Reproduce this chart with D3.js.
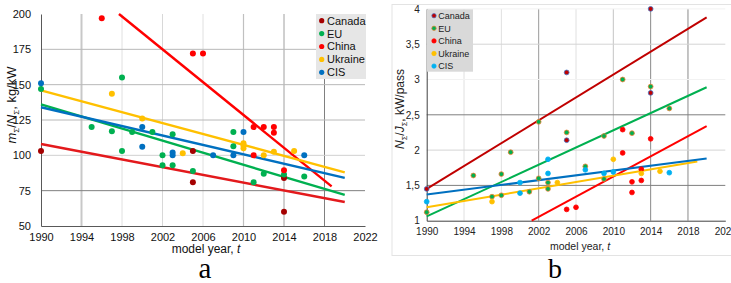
<!DOCTYPE html>
<html>
<head>
<meta charset="utf-8">
<script src="https://cdn.jsdelivr.net/npm/d3@7"></script>
<style>
  body { margin: 0; background: #fff; }
  svg { display: block; font-family: Arial, "Liberation Sans", sans-serif; }
</style>
</head>
<body>
<div id="chart"></div>
<script>
// country names, same order in both panels
const countries = ["Canada", "EU", "China", "Ukraine", "CIS"];
const yearTicks = [1990, 1994, 1998, 2002, 2006, 2010, 2014, 2018, 2022];

// panel a: specific mass m/N, kg/kW  [model year, value]
const massCanada  = [[1990, 103], [2005, 103], [2005, 81], [2014, 84], [2014, 60]];
const massEU      = [[1990, 147], [1995, 120], [1997, 117], [1998, 155], [1998, 103], [1999, 116.5], [2001, 116.5],
                     [2002, 100], [2002, 93], [2003, 115], [2003, 93], [2005, 89], [2009, 116.5], [2009, 106.5],
                     [2011, 81], [2012, 87], [2014, 86.5], [2016, 85]];
const massChina   = [[1996, 197], [2005, 172], [2006, 172], [2011, 120], [2011, 100], [2012, 120], [2013, 120],
                     [2013, 116], [2014, 89.5]];
const massUkraine = [[1997, 143.5], [2000, 126], [2004, 101.5], [2010, 108.5], [2010, 107], [2010, 105],
                     [2012, 100], [2013, 102.5], [2015, 103]];
const massCIS     = [[1990, 151], [2000, 120], [2000, 106], [2003, 102], [2003, 100], [2007, 100], [2009, 100],
                     [2010, 116.5], [2016, 100]];
// linear trends (start / end)
const massTrendCanada  = [[1990, 108], [2020, 67]];
const massTrendEU      = [[1990, 136], [2020, 72]];
const massTrendChina   = [[1997.7, 200], [2018.7, 78]];
const massTrendUkraine = [[1990, 146], [2020, 88]];
const massTrendCIS     = [[1990, 134], [2020, 84]];
const massTicks = [50, 75, 100, 125, 150, 175, 200];

// panel b: power per passenger N/J, kW/pass
const powerCanada  = [[1990, 1.45], [2005, 3.1], [2005, 2.14], [2014, 4.0], [2014, 2.81]];
const powerEU      = [[1990, 1.12], [1995, 1.64], [1997, 1.34], [1998, 1.66], [1998, 1.36], [1999, 1.97],
                      [2001, 1.41], [2002, 2.4], [2002, 1.6], [2003, 1.54], [2003, 1.45], [2005, 2.25],
                      [2007, 1.77], [2009, 2.2], [2009, 1.59], [2011, 3.0], [2012, 2.24], [2014, 2.9], [2016, 2.59]];
const powerChina   = [[2005, 1.16], [2006, 1.19], [2011, 2.29], [2011, 1.96], [2012, 1.55], [2012, 1.4],
                      [2013, 1.73], [2013, 1.57], [2014, 2.16]];
const powerUkraine = [[1997, 1.27], [2004, 1.54], [2010, 1.87], [2013, 1.67], [2015, 1.7]];
const powerCIS     = [[1990, 1.27], [2000, 1.54], [2000, 1.39], [2003, 1.87], [2003, 1.67], [2007, 1.72],
                      [2009, 1.67], [2010, 1.69], [2016, 1.68]];
const powerTrendCanada  = [[1990, 1.45], [2020, 3.88]];
const powerTrendEU      = [[1990, 1.06], [2020, 2.89]];
const powerTrendChina   = [[2001.25, 1.0], [2020, 2.34]];
const powerTrendUkraine = [[1990, 1.19], [2019, 1.84]];
const powerTrendCIS     = [[1990, 1.37], [2020, 1.88]];
const powerTicks = [1, 1.5, 2, 2.5, 3, 3.5, 4];

let width = 731, height = 283;

let svg = d3.select("#chart").append("svg")
    .attr("width", width)
    .attr("height", height);

// ---------- panel a ----------
let xa = d3.scaleLinear().domain([1990, 2022]).range([41, 365]);
let ya = d3.scaleLinear().domain([50, 200]).range([226, 14]);

let colA = { Canada: "#a50000", EU: "#00b050", China: "#ff0000", Ukraine: "#ffc000", CIS: "#0070c0" };
let lineColA = { Canada: "#e3191c", EU: "#00b050", China: "#ff0000", Ukraine: "#ffc000", CIS: "#0070c0" };
let pointsA = { Canada: massCanada, EU: massEU, China: massChina, Ukraine: massUkraine, CIS: massCIS };
let trendsA = { Canada: massTrendCanada, EU: massTrendEU, China: massTrendChina, Ukraine: massTrendUkraine, CIS: massTrendCIS };

let ga = svg.append("g").attr("class", "panel-a");

// grid - the scan has uneven grey lines, roughly copied
let vGridA = { 1994: ["#c8c8c8", 2], 1998: ["#e0e0e0", 1], 2002: ["#d8d8d8", 1], 2006: ["#e0e0e0", 1],
               2010: ["#c0c0c0", 1.2], 2014: ["#a0a0a0", 1], 2018: ["#808080", 1] };
ga.selectAll("line.vgrid")
    .data(yearTicks.filter(d => d > 1990 && d < 2022))
    .enter().append("line")
    .attr("class", "vgrid")
    .attr("x1", d => xa(d)).attr("x2", d => xa(d))
    .attr("y1", ya(200)).attr("y2", ya(50))
    .attr("stroke", d => vGridA[d][0])
    .attr("stroke-width", d => vGridA[d][1]);

let hGridA = { 75: "#7f7f7f", 100: "#d0d0d0", 125: "#b8b8b8", 150: "#b8b8b8", 175: "#b8b8b8" };
ga.selectAll("line.hgrid")
    .data(massTicks.filter(d => d > 50 && d < 200))
    .enter().append("line")
    .attr("class", "hgrid")
    .attr("x1", xa(1990)).attr("x2", xa(2022))
    .attr("y1", d => ya(d)).attr("y2", d => ya(d))
    .attr("stroke", d => hGridA[d]);

// axes
let xAxisA = ga.append("g")
    .attr("transform", "translate(0," + ya(50) + ")")
    .call(d3.axisBottom(xa).tickValues(yearTicks).tickFormat(d3.format("d")).tickSize(0).tickPadding(7));
let yAxisA = ga.append("g")
    .attr("transform", "translate(" + xa(1990) + ",0)")
    .call(d3.axisLeft(ya).tickValues(massTicks).tickSize(0).tickPadding(10));
[xAxisA, yAxisA].forEach(ax => {
    ax.select(".domain").attr("stroke", "#595959");
    ax.selectAll("text").attr("font-size", 11).attr("fill", "#111").attr("font-family", "Arial, 'Liberation Sans', sans-serif");
});

// trend lines
let lineA = d3.line().x(d => xa(d[0])).y(d => ya(d[1]));
countries.forEach(c => {
    ga.append("path")
        .attr("d", lineA(trendsA[c]))
        .attr("fill", "none")
        .attr("stroke", lineColA[c])
        .attr("stroke-width", 2.4);
});

// points
countries.forEach(c => {
    ga.selectAll("circle.p-" + c)
        .data(pointsA[c])
        .enter().append("circle")
        .attr("class", "p-" + c)
        .attr("cx", d => xa(d[0]))
        .attr("cy", d => ya(d[1]))
        .attr("r", 3)
        .attr("fill", colA[c]);
});

// legend
let legA = ga.append("g").attr("transform", "translate(316,14)");
legA.append("rect").attr("width", 50).attr("height", 65).attr("fill", "#e6e6e6");
let legItemA = legA.selectAll("g.item").data(countries).enter().append("g")
    .attr("transform", (d, i) => "translate(0," + (6.7 + i * 12.9) + ")");
legItemA.append("circle").attr("cx", 5.7).attr("r", 2.6).attr("fill", d => colA[d]);
legItemA.append("text").attr("x", 11).attr("dy", "0.36em").attr("font-size", 11).attr("fill", "#111").text(d => d);

// titles
ga.append("text")
    .attr("x", xa(2006) + 3).attr("y", 253)
    .attr("text-anchor", "middle").attr("font-size", 12).attr("fill", "#111")
    .html('model year, <tspan font-style="italic">t</tspan>');
ga.append("text")
    .attr("transform", "translate(16,105) rotate(-90)")
    .attr("text-anchor", "middle").attr("font-size", 13).attr("fill", "#111")
    .html('<tspan font-style="italic">m</tspan><tspan font-size="8" dy="3">Σ</tspan><tspan dy="-3">/</tspan><tspan font-style="italic">N</tspan><tspan font-size="8" dy="3">Σ</tspan><tspan dy="-3">, kg/kW</tspan>');
ga.append("text")
    .attr("x", 205).attr("y", 278)
    .attr("text-anchor", "middle")
    .attr("font-family", "'Liberation Serif', 'Times New Roman', serif")
    .attr("font-size", 29).attr("fill", "#000")
    .text("a");

// ---------- panel b ----------
let xb = d3.scaleLinear().domain([1990, 2022]).range([426.7, 725.3]);
let yb = d3.scaleLinear().domain([1, 4]).range([220.7, 8.9]);

let colB = { Canada: "#c00000", EU: "#00b050", China: "#ff0000", Ukraine: "#ffc000", CIS: "#00b0f0" };
let edgeB = { Canada: "#4472c4", EU: "#ed7d31", China: "#ff0000", Ukraine: "#ffc000", CIS: "#00b0f0" };
let lineColB = { Canada: "#c00000", EU: "#00b050", China: "#ff0000", Ukraine: "#ffc000", CIS: "#0070c0" };
let pointsB = { Canada: powerCanada, EU: powerEU, China: powerChina, Ukraine: powerUkraine, CIS: powerCIS };
let trendsB = { Canada: powerTrendCanada, EU: powerTrendEU, China: powerTrendChina, Ukraine: powerTrendUkraine, CIS: powerTrendCIS };

let gb = svg.append("g").attr("class", "panel-b");

// chart frame
gb.append("rect")
    .attr("x", 392).attr("y", 4.5)
    .attr("width", 345).attr("height", 251)
    .attr("fill", "#fff")
    .attr("stroke", "#e3e3e3");

let vGridB = { 1994: "#e0e0e0", 1998: "#e0e0e0", 2002: "#9a9a9a", 2006: "#e0e0e0",
               2010: "#c4c4c4", 2014: "#8a8a8a", 2018: "#8a8a8a" };
gb.selectAll("line.vgrid")
    .data(yearTicks.filter(d => d > 1990 && d < 2022))
    .enter().append("line")
    .attr("class", "vgrid")
    .attr("x1", d => xb(d)).attr("x2", d => xb(d))
    .attr("y1", yb(4)).attr("y2", yb(1))
    .attr("stroke", d => vGridB[d]);

let hGridB = { 1.5: "#7f7f7f", 2: "#d4d4d4", 2.5: "#7f7f7f", 3: "#f2f2f2", 3.5: "#d4d4d4", 4: "#f2f2f2" };
gb.selectAll("line.hgrid")
    .data(powerTicks.filter(d => d > 1))
    .enter().append("line")
    .attr("class", "hgrid")
    .attr("x1", xb(1990)).attr("x2", xb(2022))
    .attr("y1", d => yb(d)).attr("y2", d => yb(d))
    .attr("stroke", d => hGridB[d]);

let commaFmt = d => d3.format("~g")(d).replace(".", ",");
let xAxisB = gb.append("g")
    .attr("transform", "translate(0," + yb(1) + ")")
    .call(d3.axisBottom(xb).tickValues(yearTicks).tickFormat(d3.format("d")).tickSize(0).tickPadding(7));
let yAxisB = gb.append("g")
    .attr("transform", "translate(" + xb(1990) + ",0)")
    .call(d3.axisLeft(yb).tickValues(powerTicks).tickFormat(commaFmt).tickSize(0).tickPadding(7));
[xAxisB, yAxisB].forEach(ax => {
    ax.select(".domain").attr("stroke", "#404040");
    ax.selectAll("text").attr("font-size", 10).attr("fill", "#222").attr("font-family", "Arial, 'Liberation Sans', sans-serif");
});

let lineB = d3.line().x(d => xb(d[0])).y(d => yb(d[1]));
countries.forEach(c => {
    gb.append("path")
        .attr("d", lineB(trendsB[c]))
        .attr("fill", "none")
        .attr("stroke", lineColB[c])
        .attr("stroke-width", 2);
});

countries.forEach(c => {
    gb.selectAll("circle.p-" + c)
        .data(pointsB[c])
        .enter().append("circle")
        .attr("class", "p-" + c)
        .attr("cx", d => xb(d[0]))
        .attr("cy", d => yb(d[1]))
        .attr("r", 2.4)
        .attr("fill", colB[c])
        .attr("stroke", edgeB[c])
        .attr("stroke-width", 0.8);
});

let legB = gb.append("g").attr("transform", "translate(427,9.3)");
legB.append("rect").attr("width", 46).attr("height", 62.4).attr("fill", "#d9d9d9");
let legItemB = legB.selectAll("g.item").data(countries).enter().append("g")
    .attr("transform", (d, i) => "translate(0," + (6.4 + i * 12.6) + ")");
legItemB.append("circle").attr("cx", 7).attr("r", 2.2).attr("fill", d => colB[d]).attr("stroke", d => edgeB[d]).attr("stroke-width", 0.7);
legItemB.append("text").attr("x", 11.3).attr("dy", "0.36em").attr("font-size", 9).attr("fill", "#222").text(d => d);

gb.append("text")
    .attr("x", 580).attr("y", 250)
    .attr("text-anchor", "middle").attr("font-size", 10.5).attr("fill", "#222")
    .html('model year, <tspan font-style="italic">t</tspan>');
gb.append("text")
    .attr("transform", "translate(404,109) rotate(-90)")
    .attr("text-anchor", "middle").attr("font-size", 12).attr("fill", "#222")
    .html('<tspan font-style="italic">N</tspan><tspan font-size="7.5" dy="3">Σ</tspan><tspan dy="-3">/</tspan><tspan font-style="italic">J</tspan><tspan font-size="7.5" dy="3">Σ</tspan><tspan dy="-3">, kW/pass</tspan>');
gb.append("text")
    .attr("x", 555).attr("y", 278)
    .attr("text-anchor", "middle")
    .attr("font-family", "'Liberation Serif', 'Times New Roman', serif")
    .attr("font-size", 28).attr("fill", "#000")
    .text("b");
</script>
</body>
</html>
